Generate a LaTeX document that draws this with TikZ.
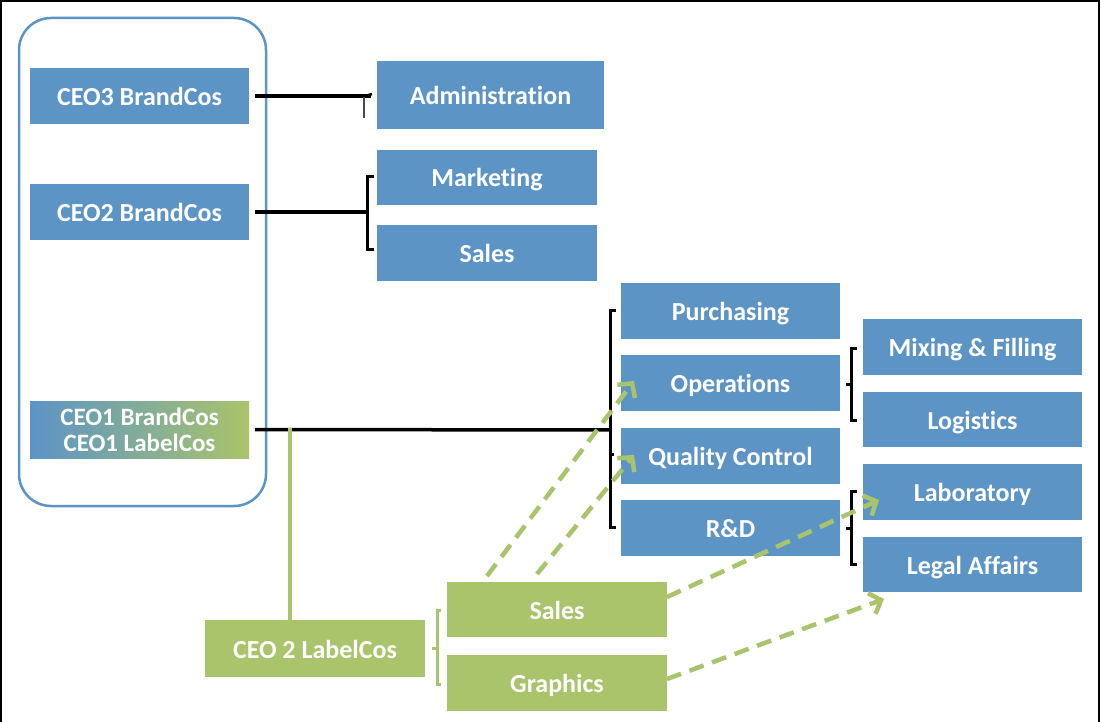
\documentclass[tikz,border=0pt]{standalone}
\usepackage{fontspec}
\setmainfont{Carlito}[Ligatures=NoCommon]
\usetikzlibrary{arrows.meta}
\definecolor{bblue}{RGB}{92,148,198}
\definecolor{bgreen}{RGB}{169,196,106}
\newcommand\lowtxt[1]{\raisebox{-9.5pt}{#1}}
\tikzset{
  box/.style={draw=none, text=white, font=\bfseries\fontsize{26}{26}\selectfont, minimum width=219pt, minimum height=56pt, inner sep=0pt, align=center, text depth=0pt, text height=0pt},
  bluebox/.style={box, fill=bblue},
  greenbox/.style={box, fill=bgreen},
  blk/.style={draw=black, line width=3.5pt},
  brk/.style={draw=black, line width=3pt},
  gline/.style={draw=bgreen, line width=4pt},
  garrow/.style={draw=bgreen, line width=4.5pt, dash pattern=on 15pt off 9pt, -{Straight Barb[length=10pt, width=22pt, line width=4.5pt]}},
}
\begin{document}
\begin{tikzpicture}[x=1pt,y=-1pt]
\useasboundingbox (0,0) rectangle (1101,722);
\fill[white] (0,0) rectangle (1101,722);
\draw[line width=2pt] (1,724) -- (1,1) -- (1099,1) -- (1099,724);
% container
\draw[bblue, line width=2.5pt, rounded corners=32pt] (19,18) rectangle (266,506);
% left boxes
\node[bluebox] (ceo3) at (139.5,96) {\lowtxt{CEO3 BrandCos}};
\node[bluebox] (ceo2) at (139.5,212) {\lowtxt{CEO2 BrandCos}};
\node[draw=none, text=white, inner sep=0pt, align=center, minimum width=219pt, left color=bblue, right color=bgreen, minimum height=57pt, font=\bfseries\fontsize{25}{26}\selectfont] (ceo1) at (139.5,429.5) {CEO1 BrandCos\\CEO1 LabelCos};
% middle
\node[bluebox, minimum width=227pt, minimum height=68pt] (adm) at (490.5,95) {\lowtxt{Administration}};
\node[bluebox, minimum width=220pt, minimum height=55pt] (mkt) at (487,177.5) {\lowtxt{Marketing}};
\node[bluebox, minimum width=220pt] (sales) at (487,253) {\lowtxt{Sales}};
% column 3
\node[bluebox] (pur) at (730.5,311) {\lowtxt{Purchasing}};
\node[bluebox] (ops) at (730.5,383) {\lowtxt{Operations}};
\node[bluebox] (qc) at (730.5,456) {\lowtxt{Quality Control}};
\node[bluebox] (rd) at (730.5,528) {\lowtxt{R\&D}};
% column 4
\node[bluebox] (mix) at (972.5,347) {\lowtxt{Mixing \& Filling}};
\node[bluebox, minimum height=55pt] (log) at (972.5,419.5) {\lowtxt{Logistics}};
\node[bluebox] (lab) at (972.5,492) {\lowtxt{Laboratory}};
\node[bluebox, minimum height=55pt] (leg) at (972.5,564.5) {\lowtxt{Legal Affairs}};
% green boxes
\node[greenbox, minimum width=220pt, minimum height=57pt] (ceo2l) at (315,648.5) {\lowtxt{CEO 2 LabelCos}};
\node[greenbox, minimum width=220pt, minimum height=55pt] (gsales) at (557,609.5) {\lowtxt{Sales}};
\node[greenbox, minimum width=220pt] (graph) at (557,683) {\lowtxt{Graphics}};

% CEO3 connector
\coordinate (c3) at (371,96);
\draw[blk] (ceo3.east) ++(6,0) -- (c3);
\draw[black!70, line width=1.2pt] (364,97) -- (364,118);
\draw[black, line width=2.5pt] (365,96) -- (372,94);
% CEO2 bracket
\coordinate (b2) at (367,212);
\draw[blk] (ceo2.east) ++(6,0) -- (b2);
\draw[brk] (374,177) -- (367,177) -- (367,250) -- (374,250);
% CEO1 bracket
\coordinate (b1) at (610,430);
\draw[blk] (ceo1.east) ++(6,0) -- (b1);
\draw[brk] (616,310) -- (610,310) -- (610,527) -- (616,527);
\draw[brk] (610,454) -- (614,454);
% right brackets
\draw[brk] (857,348) -- (851,348) -- (851,420) -- (857,420);
\draw[brk] (851,384) -- (846,384);
\draw[brk] (857,491) -- (851,491) -- (851,564) -- (857,564);
\draw[brk] (851,528) -- (846,528);
% green connectors
\coordinate (g1) at (290,428);
\draw[gline] (g1) -- (290,620);
\draw[bgreen, line width=3pt] (441,610) -- (437,610) -- (437,684) -- (441,684);
\draw[bgreen, line width=3pt] (437,648) -- (432,648);
% dashed arrows
\draw[garrow] (487,576) -- (634,381);
\draw[garrow] (537,574) -- (634,455);
\draw[garrow] (667,597) -- (879,500);
\draw[garrow] (667,679) -- (884,599);
\end{tikzpicture}
\end{document}
